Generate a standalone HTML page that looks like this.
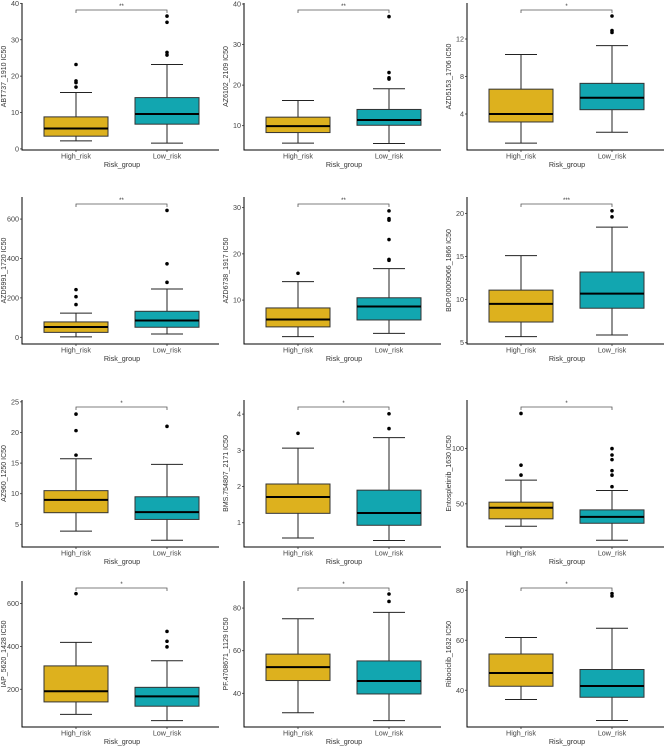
<!DOCTYPE html>
<html><head><meta charset="utf-8"><style>
html,body{margin:0;padding:0;background:#fff;}
svg{display:block;font-family:"Liberation Sans",sans-serif;}
</style></head><body>
<svg id="fig" width="669" height="746" viewBox="0 0 669 746" xmlns="http://www.w3.org/2000/svg"></svg>
<script>
const drugNames = ["ABT737_1910 IC50","AZ6102_2109 IC50","AZD5153_1706 IC50","AZD5991_1720 IC50","AZD6738_1917 IC50","BDP.00009066_1866 IC50","AZ960_1250 IC50","BMS.754807_2171 IC50","Entospletinib_1630 IC50","IAP_5620_1428 IC50","PF.4708671_1129 IC50","Ribociclib_1632 IC50"];
const stars = ["**","**","*","**","**","***","*","*","*","*","*","*"];
const categories = ["High_risk","Low_risk"];
const yDomains = [[-0.3,40.1],[4.0,40.25],[0.16,15.84],[-34,712],[0.5,32.3],[4.85,21.9],[1.3,25.3],[0.33,4.39],[10.9,144],[24,705],[24.2,92.7],[25.3,83.7]];
const yTicks = [[0,10,20,30,40],[10,20,30,40],[4,8,12],[0,200,400,600],[10,20,30],[5,10,15,20],[5,10,15,20,25],[1,2,3,4],[50,100],[200,400,600],[40,60,80],[40,60,80]];
// [whiskerLow, q1, median, q3, whiskerHigh]
const highStats = [[2.2,3.5,5.6,8.8,15.5],[5.7,8.3,9.9,12.1,16.2],[0.9,3.15,4.0,6.65,10.35],[2,25,52,78,123],[2.1,4.2,5.8,8.3,14.0],[5.7,7.4,9.5,11.1,15.1],[3.9,6.9,9.0,10.5,15.7],[0.58,1.26,1.71,2.07,3.06],[29.7,36.4,46.4,51.5,71.5],[83,141,191,309,419],[30.9,46,52.3,58.4,75],[36.3,41.6,46.9,54.5,61.1]];
const lowStats = [[1.6,6.8,9.6,14.1,23.2],[5.6,10.1,11.4,14.0,19.1],[2.05,4.46,5.74,7.27,11.3],[17,51,85,132,245],[2.8,5.7,8.6,10.5,16.8],[5.9,9.0,10.7,13.2,18.4],[2.4,5.8,7.0,9.5,14.8],[0.51,0.93,1.27,1.9,3.35],[17,32.4,38.2,44.5,62.1],[54,121,167,209,333],[27.2,39.7,45.8,55.2,78],[27.9,37.2,41.7,48.3,64.8]];
const highOutliers = [[17,18.2,18.7,23.2],[],[],[166,206,242],[15.8],[],[16.3,20.3,23.0],[3.47],[76,85,131.8],[646],[],[]];
const lowOutliers = [[25.8,26.5,34.8,36.5],[21.5,21.8,23.1,36.9],[12.7,12.9,14.45],[279,373,644],[18.6,18.8,23.1,27.3,27.6,29.3],[19.6,20.3],[21.0],[3.6,4.01],[65.5,76,80,90,94.2,100],[398,424,470],[83.1,86.6],[77.7,78.7]];

const NS="http://www.w3.org/2000/svg";
const svg=document.getElementById('fig');
const colX=[22,244,467];
const rowY=[[3,150],[197,344],[400,547],[581,727]];
const boxFill=["#DDB11E","#12A6B0"];
function mk(tag,attrs,parent){const e=document.createElementNS(NS,tag);for(const k in attrs)e.setAttribute(k,attrs[k]);(parent||svg).appendChild(e);return e;}

for(let p=0;p<drugNames.length;p++){
  const ax=colX[p%3], top=rowY[Math.floor(p/3)][0], bot=rowY[Math.floor(p/3)][1];
  const [d0,d1]=yDomains[p];
  const y=v=>bot-(v-d0)/(d1-d0)*(bot-top);
  const xc=i=>ax+54+i*91;
  const g=mk('g',{});
  
  
  const yaxis=mk('line',{x1:ax,y1:top,x2:ax,y2:bot+0.5,stroke:'#000','stroke-width':1},g);
  
  
  const xaxis=mk('line',{x1:ax,y1:bot,x2:ax+197,y2:bot,stroke:'#000','stroke-width':1},g);
  
  
  yTicks[p].forEach(t=>{
    const yy=y(t);
    mk('line',{x1:ax-2,y1:yy,x2:ax,y2:yy,stroke:'#333','stroke-width':0.8},g);
    const tl=mk('text',{x:ax-3,y:yy+2.5,'font-size':7.2,'text-anchor':'end',fill:'#444'},g);
    tl.textContent=t;
    
    
  });
  const yl=mk('text',{x:0,y:0,'font-size':7,'text-anchor':'middle',fill:'#333',transform:`translate(${ax-16},${(top+bot)/2}) rotate(-90)`},g);
  yl.textContent=drugNames[p];
  
  
  categories.forEach((c,i)=>{
    const x=xc(i);
    mk('line',{x1:x,y1:bot,x2:x,y2:bot+2,stroke:'#333','stroke-width':0.8},g);
    const cl=mk('text',{x:x,y:bot+8.5,'font-size':7.2,'text-anchor':'middle',fill:'#444'},g);
    cl.textContent=c;
    
    
  });
  const xt=mk('text',{x:ax+100,y:bot+17,'font-size':7.2,'text-anchor':'middle',fill:'#333'},g);
  xt.textContent='Risk_group';
  
  
  [highStats[p],lowStats[p]].forEach((s,i)=>{
    const x=xc(i), hw=32;
    mk('line',{x1:x,y1:y(s[0]),x2:x,y2:y(s[1]),stroke:'#222','stroke-width':1},g);
    mk('line',{x1:x,y1:y(s[3]),x2:x,y2:y(s[4]),stroke:'#222','stroke-width':1},g);
    mk('line',{x1:x-16,y1:y(s[0]),x2:x+16,y2:y(s[0]),stroke:'#222','stroke-width':1},g);
    mk('line',{x1:x-16,y1:y(s[4]),x2:x+16,y2:y(s[4]),stroke:'#222','stroke-width':1},g);
    const b=mk('rect',{x:x-hw,y:y(s[3]),width:hw*2,height:y(s[1])-y(s[3]),fill:boxFill[i],stroke:'#333','stroke-width':1},g);
    
    
    mk('line',{x1:x-hw,y1:y(s[2]),x2:x+hw,y2:y(s[2]),stroke:'#000','stroke-width':2},g);
  });
  [highOutliers[p],lowOutliers[p]].forEach((arr,i)=>{
    arr.forEach(v=>{
      const c=mk('circle',{cx:xc(i),cy:y(v),r:1.8,fill:'#000'},g);
      
      
    });
  });
  const by=top+7;
  const br=mk('path',{d:`M${xc(0)},${by+3}V${by}H${xc(1)}V${by+3}`,fill:'none',stroke:'#555','stroke-width':0.8},g);
  
  
  const st=mk('text',{x:(xc(0)+xc(1))/2,y:by-2,'font-size':6,'text-anchor':'middle',fill:'#333'},g);
  st.textContent=stars[p];
  
  
}
</script>
</body></html>
